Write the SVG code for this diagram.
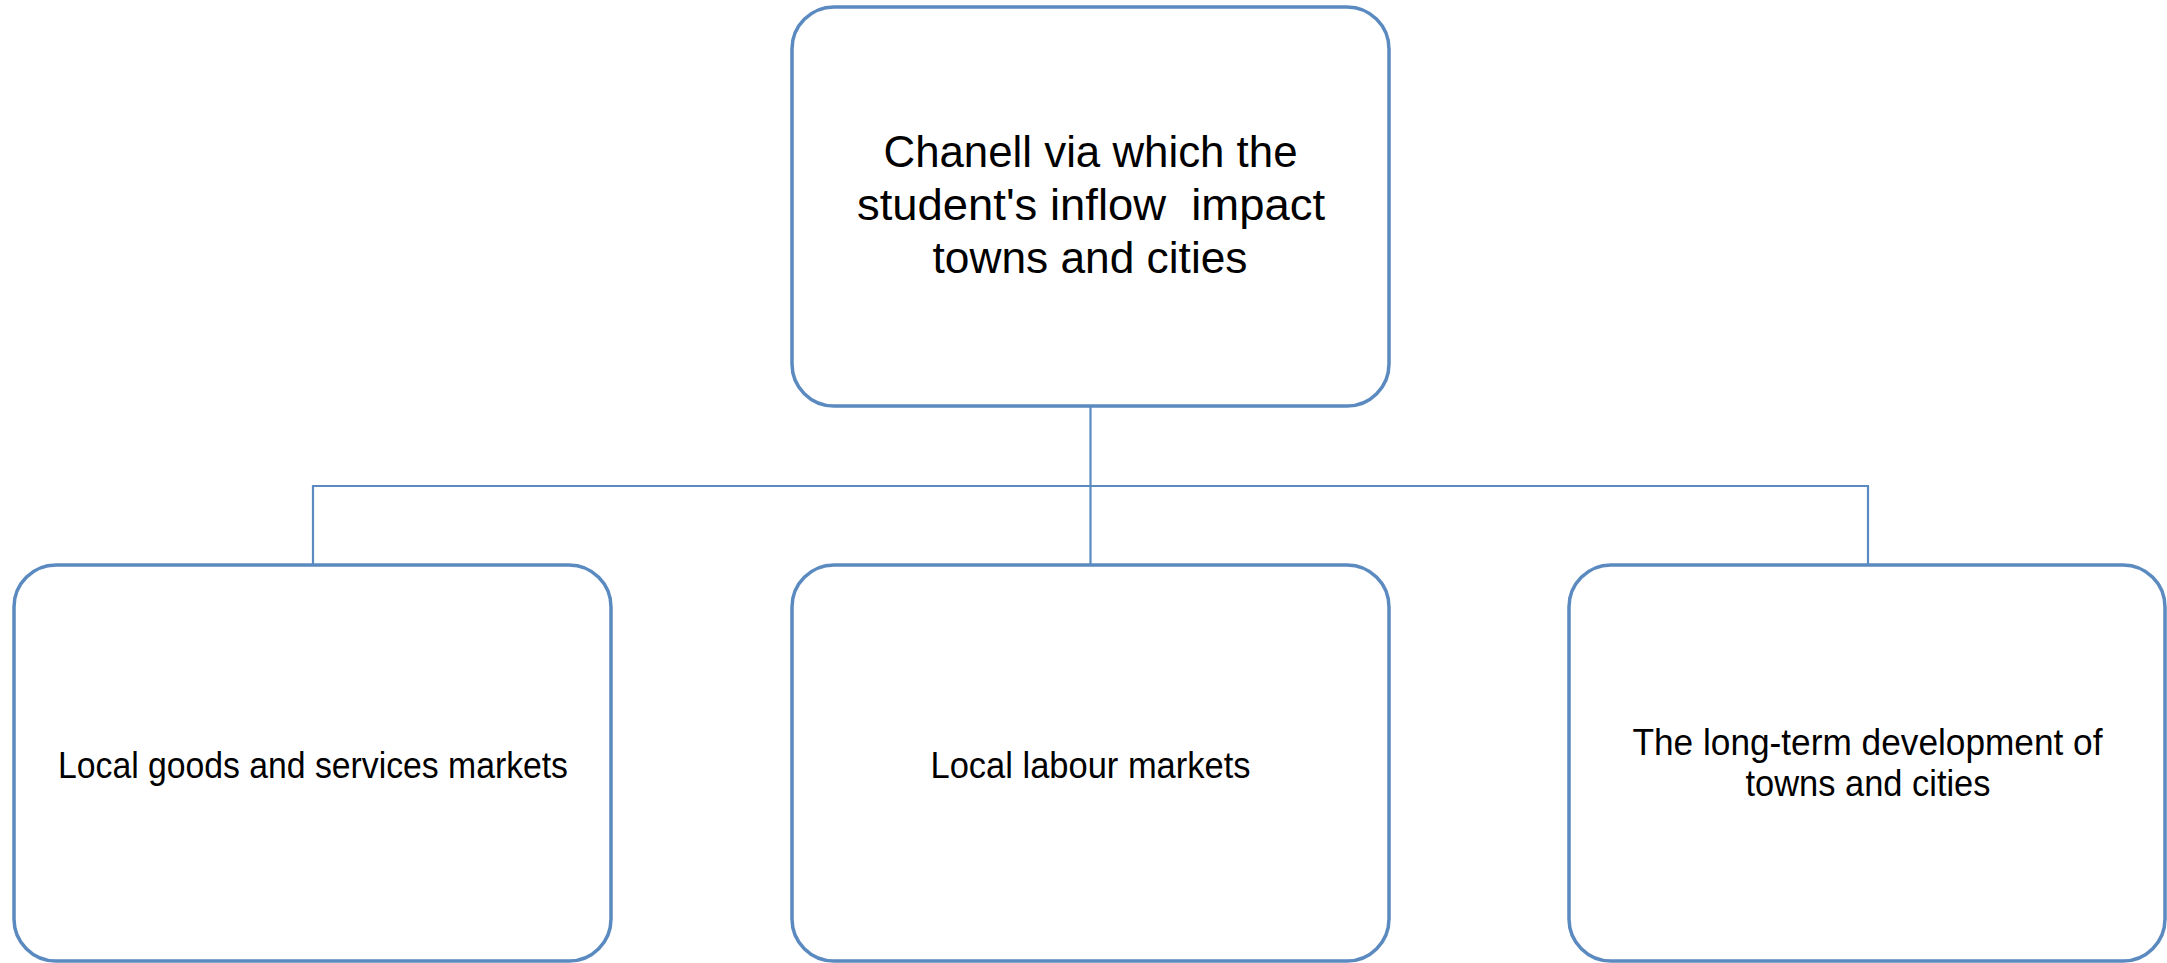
<svg xmlns="http://www.w3.org/2000/svg" width="2167" height="963" viewBox="0 0 2167 963">
<style>
.box{fill:#ffffff;stroke:#5a8ac0;stroke-width:3.5}
.conn{fill:none;stroke:#5a8ac0;stroke-width:2.2}
.t{font-family:"Liberation Sans",Arial,sans-serif;fill:#000000;text-anchor:middle}
.big{font-size:44px}
.small{font-size:36px}
</style>
<rect x="0" y="0" width="2167" height="963" fill="#ffffff"/>
<g id="connectors">
<path class="conn" d="M1090.5,406 V565"/>
<path class="conn" d="M313,565 V486 H1868 V565"/>
</g>
<g id="root">
<rect class="box" x="792" y="7" width="597" height="399" rx="42" ry="42"/>
<text class="t big" xml:space="preserve"><tspan x="1090.5" y="167" textLength="414" lengthAdjust="spacingAndGlyphs">Chanell via which the</tspan><tspan x="1091" y="220" textLength="468" lengthAdjust="spacingAndGlyphs">student's inflow  impact</tspan><tspan x="1090" y="273" textLength="315" lengthAdjust="spacingAndGlyphs">towns and cities</tspan></text>
</g>
<g id="goods">
<rect class="box" x="14" y="565" width="597" height="396" rx="42" ry="42"/>
<text class="t small" x="313" y="778" textLength="510" lengthAdjust="spacingAndGlyphs">Local goods and services markets</text>
</g>
<g id="labour">
<rect class="box" x="792" y="565" width="597" height="396" rx="42" ry="42"/>
<text class="t small" x="1090.5" y="778" textLength="320" lengthAdjust="spacingAndGlyphs">Local labour markets</text>
</g>
<g id="development">
<rect class="box" x="1569" y="565" width="596" height="396" rx="42" ry="42"/>
<text class="t small"><tspan x="1867.5" y="755" textLength="470" lengthAdjust="spacingAndGlyphs">The long-term development of</tspan><tspan x="1868" y="796" textLength="245" lengthAdjust="spacingAndGlyphs">towns and cities</tspan></text>
</g>
</svg>
